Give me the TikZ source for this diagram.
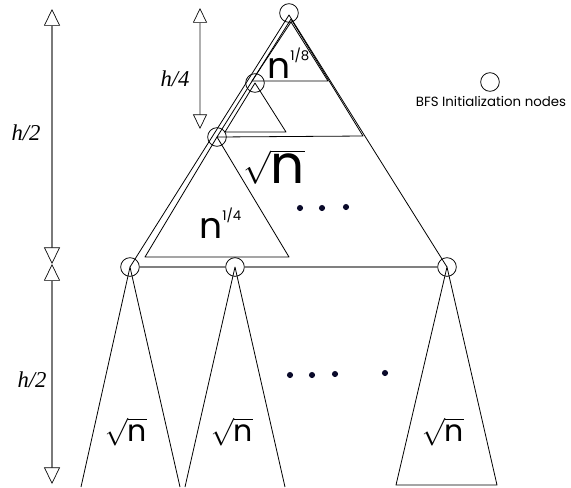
\documentclass[tikz,border=0pt]{standalone}
\usepackage{fontspec}
\setmainfont{Poppins}
\newfontfamily\VebHeightFont{Liberation Serif}
\usetikzlibrary{arrows.meta}
\definecolor{VebInk}{HTML}{000000}
\definecolor{VebShaft}{HTML}{7A7A7A}
\definecolor{VebBase}{HTML}{808080}
\definecolor{VebDot}{HTML}{0A0A2A}
\tikzset{
  veb tip/.tip={Triangle[length=12.5pt, width=12pt, fill=white, color=VebInk, line width=.5pt]},
  veb small tip/.tip={Triangle[length=11pt, width=10.5pt, fill=white, color=VebInk, line width=.5pt]},
  veb edge/.style={draw=VebInk, line width=.6pt, line join=round},
  veb base/.style={draw=VebBase, line width=1.3pt},
  veb init/.style={circle, draw=VebInk, line width=.6pt, minimum size=14pt, inner sep=0pt},
  veb dot/.style={circle, fill=VebDot, minimum size=4.6pt, inner sep=0pt},
  veb span/.style={draw=VebShaft, line width=2.2pt, {veb tip}-{veb tip}},
  veb span small/.style={draw=VebInk, line width=.45pt, double=VebShaft!60, double distance=1.1pt,
    {veb small tip}-{veb small tip}},
  veb height/.style={font=\VebHeightFont\itshape\fontsize{17}{17}\selectfont},
  veb big/.style={font=\fontsize{40}{40}\selectfont, inner sep=0pt},
  veb mid/.style={font=\fontsize{27}{27}\selectfont, inner sep=0pt},
  veb leaf/.style={font=\fontsize{22.5}{22.5}\selectfont, inner sep=0pt},
  veb legend/.style={font=\fontsize{10}{12}\selectfont, inner sep=0pt},
}
\newcommand{\VebRoot}{$\sqrt{\hbox{n}}$}
\newcommand{\VebPow}[1]{n\raisebox{13pt}{\fontsize{10}{10}\selectfont #1}}

\begin{document}
\begin{tikzpicture}[x=.75pt,y=-.75pt]
  \useasboundingbox (0,0) rectangle (571,487);

  % BFS initialization nodes
  \node[veb init] (r)  at (289,13) {};
  \node[veb init] (q1) at (255,83) {};
  \node[veb init] (q2) at (217,137) {};
  \node[veb init] (b1) at (130,267) {};
  \node[veb init] (b2) at (235,267) {};
  \node[veb init] (b3) at (447,267) {};

  % top sqrt(n) tree
  \draw[veb edge] (b1.center) -- (289,15) -- (b3.center);
  \draw[veb base] (b1) -- (b2) -- (b3);

  % top n^{1/4} tree with its n^{1/8} trees
  \draw[veb edge] (291,19) -- (q2.center) -- (363,136) -- cycle;
  \draw[veb edge] (291,22) -- (252,81) -- (328,81) -- cycle;
  \draw[veb edge] (q1.center) -- (225,132) -- (286,132) -- cycle;

  % a bottom n^{1/4} tree
  \draw[veb edge] (q2.center) -- (145,257) -- (289,257) -- cycle;

  % bottom sqrt(n) trees
  \draw[veb edge] (81,487) -- (b1.center) -- (180,487);
  \draw[veb edge] (185,487) -- (b2.center) -- (285,487);
  \draw[veb edge] (396,485) -- (b3.center) -- (497,485) -- cycle;

  \foreach \x/\y in {300/208,322/208,346/207}
    \node[veb dot] (u\x) at (\x,\y) {};
  \foreach \x/\y in {290/375,312/375,335/374,385/373}
    \node[veb dot] (l\x) at (\x,\y) {};

  \node[veb big] (top) at (274,167) {\VebRoot};
  \node[veb mid, anchor=base west] (quarter) at (199,238) {\VebPow{1/4}};
  \node[veb mid, anchor=base west] (eighth) at (267,78) {\VebPow{1/8}};
  \node[veb leaf] (s1) at (126,432) {\VebRoot};
  \node[veb leaf] (s2) at (232,432) {\VebRoot};
  \node[veb leaf] (s3) at (443,432) {\VebRoot};

  % legend
  \node[veb init] (key) at (490,82) {};
  \node[veb legend] (keytext) at (491,101) {BFS Initialization nodes};

  % heights
  \coordinate (h0) at (52,9);
  \coordinate (h1) at (52,264);
  \coordinate (h2) at (52,484);
  \draw[veb span] (h0) -- (h1);
  \draw[veb span] (h1) -- (h2);
  \node[veb height] (half1) at (26,133) {h/2};
  \node[veb height] (half2) at (32,380) {h/2};

  \coordinate (g0) at (200,8);
  \coordinate (g1) at (200,129);
  \draw[veb span small] (g0) -- (g1);
  \node[veb height] (fourth) at (175,79) {h/4};
\end{tikzpicture}
\end{document}
